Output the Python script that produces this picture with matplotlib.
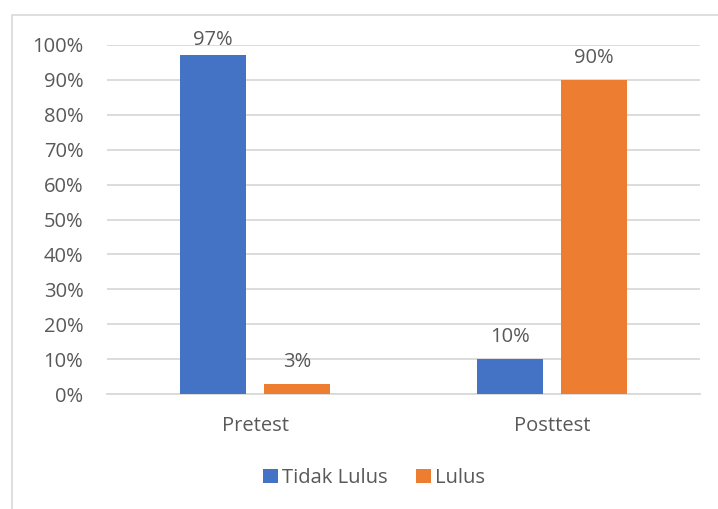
import matplotlib
matplotlib.use("Agg")
import matplotlib.pyplot as plt
from matplotlib.patches import Rectangle
from matplotlib.ticker import FuncFormatter
import numpy as np

categories = ["Pretest", "Posttest"]
tidak_lulus = [0.97, 0.10]
lulus = [0.03, 0.90]
series_names = ["Tidak Lulus", "Lulus"]
colors = ["#4472C4", "#ED7D31"]

plt.rcParams['font.family'] = ['Open Sans', 'DejaVu Sans']
txt = "#595959"
fs = 14.5

fig = plt.figure(figsize=(7.18, 5.09), dpi=100)
fig.patches.append(Rectangle((12/718, -0.1), 1.2, 1.1 - 15/509,
                             transform=fig.transFigure, fill=False,
                             edgecolor="#D9D9D9", linewidth=1.2, zorder=0))
ax = fig.add_axes([107/718, 1 - 394/509, (700 - 107)/718, (394 - 45)/509])

x = np.arange(len(categories))
w = 0.223
off = 0.142
b1 = ax.bar(x - off, tidak_lulus, w, color=colors[0], label=series_names[0], zorder=3)
b2 = ax.bar(x + off, lulus, w, color=colors[1], label=series_names[1], zorder=3)

for bars, vals in ((b1, tidak_lulus), (b2, lulus)):
    for r, v in zip(bars, vals):
        dy = 4 if v > 0.95 else 8.5
        ax.annotate(f"{round(v*100)}%", (r.get_x() + r.get_width()/2, v),
                    xytext=(0, dy), textcoords="offset points",
                    ha="center", va="bottom", fontsize=fs, color=txt)

ax.set_xlim(-0.5, 1.5)
ax.set_ylim(0, 1.0)
ax.set_yticks(np.arange(0, 1.01, 0.1))
ax.yaxis.set_major_formatter(FuncFormatter(lambda v, p: f"{round(v*100)}%"))
ax.set_xticks(x)
ax.set_xticklabels(categories)
ax.tick_params(axis="both", length=0, labelsize=fs, colors=txt)
ax.tick_params(axis="x", pad=16)
ax.tick_params(axis="y", pad=17)
ax.grid(axis="y", color="#D9D9D9", linewidth=1.3, zorder=0)
for s in ["top", "right", "left"]:
    ax.spines[s].set_visible(False)
ax.spines["bottom"].set_color("#D9D9D9")
ax.spines["bottom"].set_linewidth(1.3)

fig.legend(handles=[b1, b2], labels=series_names, loc="center",
           bbox_to_anchor=(374/718, 1 - 478/509), ncol=2, frameon=False,
           fontsize=fs, labelcolor=txt, handlelength=0.75, handleheight=0.75,
           handletextpad=0.2, columnspacing=1.4)

fig.savefig("out.png", dpi=100)
